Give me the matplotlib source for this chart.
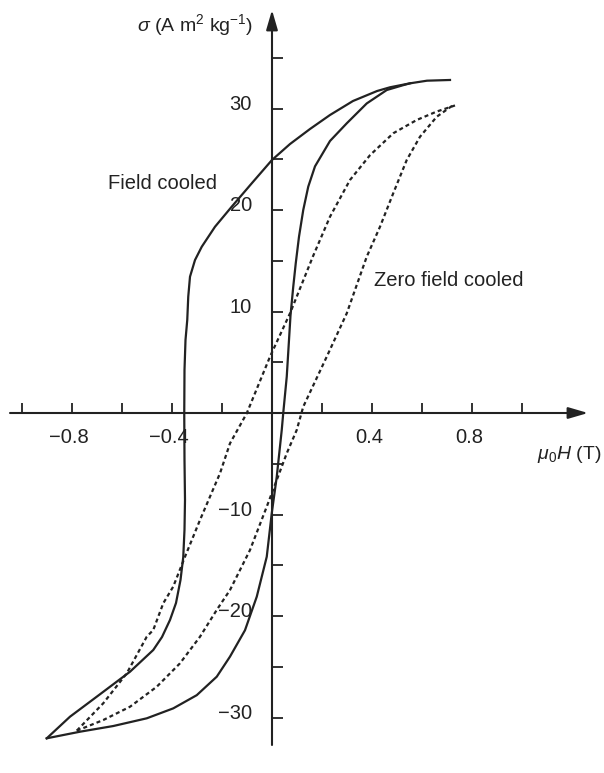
import numpy as np
import matplotlib
matplotlib.use("Agg")
import matplotlib.pyplot as plt

plt.rcParams['font.family'] = ['Liberation Sans', 'DejaVu Sans']
plt.rcParams['mathtext.fontset'] = 'custom'
plt.rcParams['mathtext.rm'] = 'Liberation Sans'
plt.rcParams['mathtext.it'] = 'Liberation Sans:italic'

# field cooled loop (solid), upper/descending branch: tip -> bottom-left tip
fc_down_h = [0.712, 0.62, 0.552, 0.472, 0.42, 0.324, 0.232, 0.152, 0.072, 0.0,
             -0.081, -0.161, -0.228, -0.281, -0.308, -0.328, -0.335, -0.339,
             -0.346, -0.35, -0.351, -0.35, -0.348, -0.35, -0.355, -0.366, -0.384,
             -0.408, -0.44, -0.475, -0.568, -0.701, -0.808, -0.901]
fc_down_s = [32.81, 32.74, 32.48, 32.09, 31.72, 30.74, 29.36, 27.98, 26.5, 24.93,
             22.63, 20.33, 18.35, 16.38, 15.07, 13.43, 11.46, 9.16,
             7.19, 4.24, -0.03, -4.63, -8.57, -11.5, -14.2, -16.45, -18.72,
             -20.39, -22.07, -23.35, -25.49, -27.95, -29.92, -32.05]
# lower/ascending branch: bottom-left tip -> joins upper branch
fc_up_h = [-0.901, -0.768, -0.635, -0.501, -0.395, -0.301, -0.221, -0.168, -0.108,
           -0.061, -0.021, -0.001, 0.019, 0.039, 0.045, 0.059, 0.074, 0.085, 0.095,
           0.108, 0.125, 0.145, 0.172, 0.232, 0.299, 0.379, 0.459, 0.525, 0.552]
fc_up_s = [-32.05, -31.4, -30.84, -30.08, -29.1, -27.8, -25.98, -24.0, -21.4,
           -18.1, -14.16, -9.88, -6.28, -1.67, 0.0, 3.58, 9.6, 12.44, 14.75,
           17.37, 20.0, 22.3, 24.3, 26.8, 28.54, 30.5, 31.82, 32.3, 32.48]

# zero field cooled loop (dotted)
zfc_down_h = [0.732, 0.659, 0.579, 0.485, 0.392, 0.312, 0.232, 0.165, 0.072, -0.008,
              -0.101, -0.168, -0.208, -0.288, -0.348, -0.395, -0.435, -0.475, -0.501,
              -0.581, -0.675, -0.781]
zfc_down_s = [30.3, 29.7, 28.87, 27.56, 25.4, 22.96, 19.34, 15.5, 9.82, 5.55,
              -0.03, -2.99, -5.94, -10.54, -14.16, -17.1, -18.75, -21.38, -22.04,
              -25.65, -28.6, -31.3]
zfc_up_h = [-0.781, -0.675, -0.568, -0.461, -0.368, -0.288, -0.221, -0.168, -0.088,
            -0.021, 0.019, 0.059, 0.099, 0.125, 0.219, 0.299, 0.379, 0.432, 0.485,
            0.539, 0.592, 0.659, 0.725]
zfc_up_s = [-31.3, -30.25, -28.94, -26.97, -24.66, -22.04, -19.4, -17.44, -13.5,
            -9.23, -6.6, -3.97, -1.67, 0.62, 5.55, 9.82, 15.4, 18.35, 21.65,
            24.93, 27.22, 29.19, 30.34]

x_ticks = [-1.0, -0.8, -0.6, -0.4, -0.2, 0.2, 0.4, 0.6, 0.8, 1.0]
x_labels = [-0.8, -0.4, 0.4, 0.8]
y_ticks = [35, 30, 25, 20, 15, 10, 5, -5, -10, -15, -20, -25, -30]
y_labels = [30, 20, 10, -10, -20, -30]

ink = '#222222'
px_x = 250.0   # pixels per tesla
px_y = 10.15   # pixels per A m2/kg

fig = plt.figure(figsize=(6.04, 7.73), dpi=100)
ax = fig.add_axes([0, 0, 1, 1])
ax.set_xlim(-272 / px_x, 332 / px_x)
ax.set_ylim((413 - 773) / px_y, 413 / px_y)
ax.axis('off')

# axes with arrows
arrow = dict(arrowstyle='-|>,head_length=1.2,head_width=0.35', mutation_scale=10,
             lw=1.5, color=ink, shrinkA=0, shrinkB=0)
ax.annotate('', xy=(316 / px_x, 0), xytext=(-262 / px_x, 0), arrowprops=arrow)
ax.annotate('', xy=(0, 403 / px_y), xytext=(0, -332 / px_y), arrowprops=arrow)

# ticks
ax.vlines(x_ticks, 0, 10 / px_y, color=ink, lw=1.3)
ax.hlines(y_ticks, 0, 11 / px_x, color=ink, lw=1.3)

for v in x_labels:
    ax.text(v - 0.012, -24 / px_y, f'{v:.1f}'.replace('-', '\u2212'),
            ha='center', va='center', fontsize=14.5, color=ink)
for v in y_labels:
    ax.text(-20 / px_x, v + 0.4, f'{v}'.replace('-', '\u2212'),
            ha='right', va='center', fontsize=14.5, color=ink)

ax.text(-19 / px_x, 388 / px_y, r'$\sigma$ (A m$^2$ kg$^{-1}$)',
        ha='right', va='center', fontsize=14, color=ink)
ax.text(265 / px_x, -41 / px_y, r'$\mu_0 H$ (T)',
        ha='left', va='center', fontsize=14, color=ink)
ax.text(-110 / px_x, 230 / px_y, 'Field cooled', ha='center', va='center',
        fontsize=14.5, color=ink)
ax.text(177 / px_x, 133 / px_y, 'Zero field cooled', ha='center', va='center',
        fontsize=14.5, color=ink)

# loops
ax.plot(fc_down_h, fc_down_s, color=ink, lw=1.6)
ax.plot(fc_up_h, fc_up_s, color=ink, lw=1.6)
ax.plot(zfc_down_h, zfc_down_s, color=ink, lw=1.6, linestyle=(0, (1.8, 1.4)))
ax.plot(zfc_up_h, zfc_up_s, color=ink, lw=1.6, linestyle=(0, (1.8, 1.4)))

fig.savefig('out.png', dpi=100)
